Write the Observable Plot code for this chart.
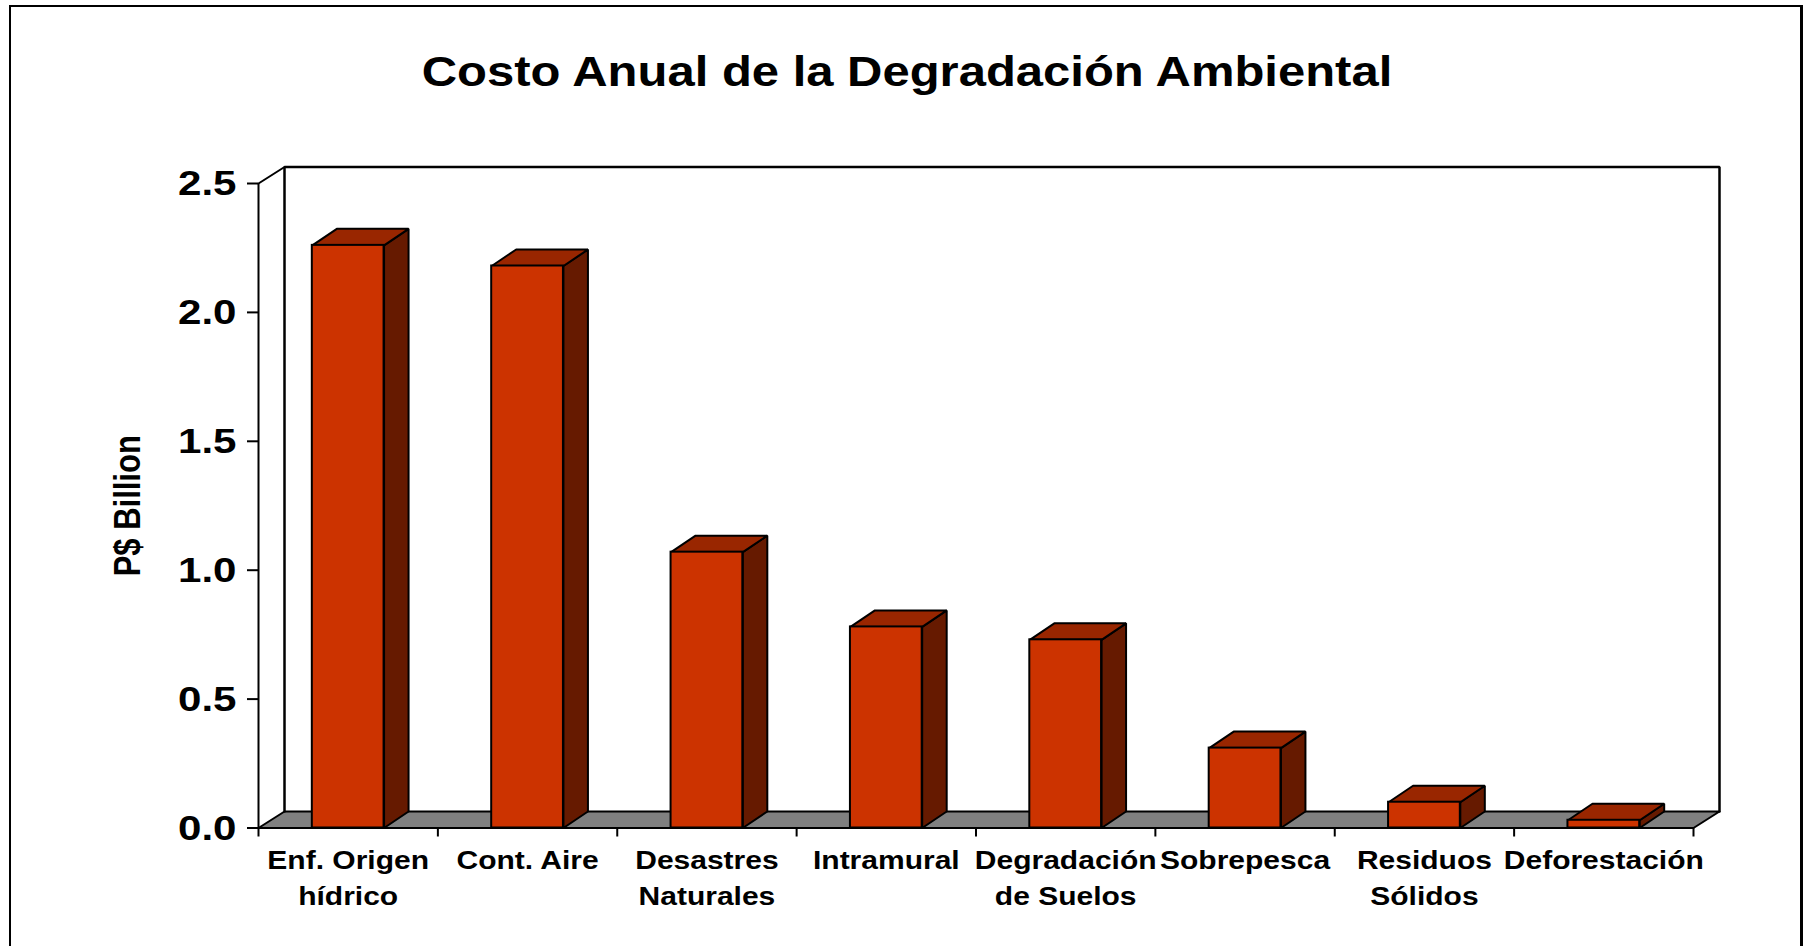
<!DOCTYPE html>
<html>
<head>
<meta charset="utf-8">
<script src="https://cdn.jsdelivr.net/npm/d3@7"></script>
<script src="https://cdn.jsdelivr.net/npm/@observablehq/plot@0.6"></script>
<style>
  html, body { margin: 0; padding: 0; background: #fff; overflow: hidden; }
  #wrap { position: relative; width: 1806px; height: 946px; }
  #title {
    position: absolute; top: 51px; left: 0; width: 1814px; text-align: center;
    font: bold 42px/42px "Liberation Sans", Arial, sans-serif; color: #000;
    transform: scaleX(1.166); transform-origin: 907px 0; white-space: nowrap;
  }
  #chart { position: absolute; top: 120px; left: 0; }
  #frame {
    position: absolute; left: 9px; top: 5px; width: 1794px; height: 1000px;
    box-sizing: border-box; border-left: 2px solid #000; border-top: 2px solid #000;
    border-right: 3px solid #000; pointer-events: none;
  }
</style>
</head>
<body>
<div id="wrap">
  <div id="title"></div>
  <div id="chart"></div>
  <div id="frame"></div>
</div>
<script>
// ---- data ----
const title = "Costo Anual de la Degradación Ambiental";
const yLabel = "P$ Billion";
const categories = [
  "Enf. Origen\nhídrico", "Cont. Aire", "Desastres\nNaturales", "Intramural",
  "Degradación\nde Suelos", "Sobrepesca", "Residuos\nSólidos", "Deforestación"
];
const values = [2.26, 2.18, 1.07, 0.78, 0.73, 0.31, 0.10, 0.03];
const yTicks = [0, 0.5, 1.0, 1.5, 2.0, 2.5];

// ---- layout ----
const W = 1806, H = 826;
const mL = 258, mR = 113, mT = 63, mB = 118.5;
const n = categories.length;
const yMax = yTicks[yTicks.length - 1];
const pxX = (W - mL - mR) / n;
const pxY = (H - mT - mB) / yMax;
const DXf = 26 / pxX, DYf = 16.5 / pxY;     // floor / wall depth
const DXb = 24.5 / pxX, DYb = 16.5 / pxY;   // bar depth
const barGap = 0.3;

document.getElementById("title").textContent = title;

const rows = categories.map((c, i) => ({i, c, v: values[i]}));

const floorPts = [[0, 0], [n, 0], [n + DXf, DYf], [DXf, DYf]].map(([x, y]) => ({x, y}));
const wallPts = [[DXf, DYf], [DXf, yMax + DYf], [n + DXf, yMax + DYf], [n + DXf, DYf]].map(([x, y]) => ({x, y}));
const diagPts = [[0, yMax], [DXf, yMax + DYf]].map(([x, y]) => ({x, y}));

const sidePts = rows.flatMap(d => {
  const x2 = d.i + 1 - barGap;
  return [[x2, 0], [x2, d.v], [x2 + DXb, d.v + DYb], [x2 + DXb, DYb]].map(([x, y]) => ({k: d.i, x, y}));
});
const topPts = rows.flatMap(d => {
  const x1 = d.i + barGap, x2 = d.i + 1 - barGap;
  return [[x1, d.v], [x2, d.v], [x2 + DXb, d.v + DYb], [x1 + DXb, d.v + DYb]].map(([x, y]) => ({k: d.i, x, y}));
});

const svg = Plot.plot({
  width: W, height: H,
  marginLeft: mL, marginRight: mR, marginTop: mT, marginBottom: mB,
  style: {fontFamily: '"Liberation Sans", Arial, sans-serif', background: "none", overflow: "visible"},
  x: {type: "linear", domain: [0, n]},
  y: {type: "linear", domain: [0, yMax]},
  marks: [
    Plot.line(floorPts, {x: "x", y: "y", curve: "linear-closed", fill: "#808080", stroke: "#000", strokeWidth: 2}),
    Plot.line(wallPts, {x: "x", y: "y", stroke: "#000", strokeWidth: 2.5, strokeLinejoin: "miter"}),
    Plot.line(diagPts, {x: "x", y: "y", stroke: "#000", strokeWidth: 2}),
    Plot.ruleX([0], {y1: 0, y2: yMax, stroke: "#000", strokeWidth: 2}),
    Plot.axisY({ticks: yTicks, tickSize: 11, tickPadding: 11, tickFormat: d => d.toFixed(1),
      fontSize: 36, fontWeight: "bold", strokeWidth: 2, label: null, anchor: "left"}),
    Plot.axisX({ticks: d3.range(n + 1), tickSize: 9, tickFormat: () => null, strokeWidth: 2, label: null, anchor: "bottom"}),
    Plot.line(sidePts, {x: "x", y: "y", z: "k", curve: "linear-closed", fill: "#661A00", stroke: "#000", strokeWidth: 2, strokeLinejoin: "miter"}),
    Plot.line(topPts, {x: "x", y: "y", z: "k", curve: "linear-closed", fill: "#992600", stroke: "#000", strokeWidth: 2, strokeLinejoin: "miter"}),
    Plot.rect(rows, {x1: d => d.i + barGap, x2: d => d.i + 1 - barGap, y1: () => 0, y2: "v", fill: "#CC3300", stroke: "#000", strokeWidth: 2}),
    Plot.text(categories, {x: (d, i) => i + 0.5, y: () => 0, dy: 15.75, lineAnchor: "top", lineHeight: 1.43,
      fontSize: 25, fontWeight: "bold", fill: "#000"}),
    Plot.text([yLabel], {x: () => 0, y: () => yMax / 2, dx: -130.5, rotate: -90, fontSize: 31, fontWeight: "bold", fill: "#000"})
  ]
});

// horizontal stretch of the text, as in the reference rendering
function stretchNode(t, k) {
  const tr = t.getAttribute("transform");
  if (tr) {
    const m = tr.match(/^\s*(translate\([^)]*\))(.*)$/);
    if (m) t.setAttribute("transform", `${m[1]} scale(${k},1)${m[2]}`);
  } else {
    const x = +t.getAttribute("x") || 0, y = +t.getAttribute("y") || 0;
    t.removeAttribute("x"); t.removeAttribute("y");
    t.setAttribute("transform", `translate(${x},${y}) scale(${k},1)`);
  }
}
const textGroups = svg.querySelectorAll('g[aria-label="text"]');
if (textGroups[0]) textGroups[0].querySelectorAll("text").forEach(t => stretchNode(t, 1.2));
if (textGroups[1]) textGroups[1].querySelectorAll("text").forEach(t => stretchNode(t, 1.17));
svg.querySelectorAll('g[aria-label="y-axis tick label"] text').forEach(t => stretchNode(t, 1.17));

document.getElementById("chart").appendChild(svg);
</script>
</body>
</html>
